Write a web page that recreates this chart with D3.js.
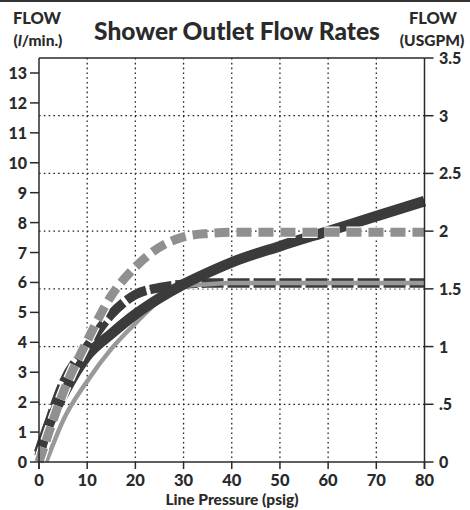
<!DOCTYPE html>
<html><head><meta charset="utf-8">
<script src="https://cdn.jsdelivr.net/npm/d3@7"></script>
<style>
html,body{margin:0;padding:0;background:#fff;}
svg{display:block;}
text{font-family:Lato,"Open Sans",sans-serif;font-weight:900;fill:#2a2a2a;}
</style></head>
<body>
<svg id="c" width="470" height="510"></svg>
<script>
// ---- data ----
const title = "Shower Outlet Flow Rates";
const xTicks = [0,10,20,30,40,50,60,70,80];
const leftTicks = [0,1,2,3,4,5,6,7,8,9,10,11,12,13];
const rightTicks = [0,0.5,1,1.5,2,2.5,3,3.5];
const rightTickLabels = ["0",".5","1","1.5","2","2.5","3","3.5"];
const pressure = [0,2,5,10,15,20,25,30,35,40,50,60,70,80];
// flows in USGPM
const darkSolid  = [0.08,0.32,0.58,0.92,1.11,1.28,1.42,1.54,1.64,1.73,1.87,2.00,2.13,2.26];
const darkDashed = [0.05,0.33,0.68,1.00,1.28,1.45,1.51,1.54,1.55,1.55,1.55,1.55,1.55,1.55];
const grayDotted = [0.00,0.25,0.60,1.05,1.44,1.69,1.86,1.95,1.98,1.99,1.99,1.99,1.99,1.99];
const graySolidPressure = [1.5,5,10,15,20,25,30,35,40,50,60,70,80];
const graySolid  = [0.00,0.36,0.70,0.98,1.20,1.40,1.52,1.54,1.55,1.55,1.55,1.55,1.55];

// ---- layout ----
const svg = d3.select("#c");
const x = d3.scaleLinear().domain([0,80]).range([39,424.5]);
const yR = d3.scaleLinear().domain([0,3.5]).range([462,58]);
const yL = d3.scaleLinear().domain([0,13]).range([462,73]);
const ink = "#2a2a2a";

svg.append("rect").attr("x",0).attr("y",0).attr("width",470).attr("height",2).attr("fill","#333");

// grid
const grid = svg.append("g").attr("stroke","#222").attr("stroke-width",1.3).attr("stroke-dasharray","1.6,3.2");
grid.selectAll("line.v").data(xTicks.slice(1,-1)).join("line")
  .attr("x1",d=>x(d)).attr("x2",d=>x(d)).attr("y1",yR(3.5)).attr("y2",yR(0));
grid.selectAll("line.h").data(rightTicks.slice(1,-1)).join("line")
  .attr("x1",x(0)).attr("x2",x(80)).attr("y1",d=>yR(d)).attr("y2",d=>yR(d));

// curves
const line = d3.line().curve(d3.curveMonotoneX);
const pts = (xs,ys)=>xs.map((p,i)=>[x(p),yR(ys[i])]);
const curves = svg.append("g").attr("fill","none");
curves.append("path").attr("d",line(pts(pressure,darkDashed)))
  .attr("stroke","#fff").attr("stroke-width",11).attr("stroke-dasharray","22,4");
curves.append("path").attr("d",line(pts(pressure,darkDashed)))
  .attr("stroke","#3b3b3b").attr("stroke-width",9.5).attr("stroke-dasharray","22,4");
curves.append("path").attr("d",line(pts(graySolidPressure,graySolid)))
  .attr("stroke","#999").attr("stroke-width",4.5);
curves.append("path").attr("d",line(pts(pressure,darkSolid)))
  .attr("stroke","#3b3b3b").attr("stroke-width",10.5);
curves.append("path").attr("d",line(pts(pressure,grayDotted)))
  .attr("stroke","#fff").attr("stroke-width",11.5).attr("stroke-dasharray","15,7");
curves.append("path").attr("d",line(pts(pressure,grayDotted)))
  .attr("stroke","#909090").attr("stroke-width",9).attr("stroke-dasharray","15,7");

// axes frame
const ax = svg.append("g").attr("stroke",ink).attr("stroke-width",1.5).attr("fill","none");
ax.append("line").attr("x1",x(0)).attr("x2",x(0)).attr("y1",yR(3.5)).attr("y2",yR(0)+7);
ax.append("line").attr("x1",x(80)).attr("x2",x(80)).attr("y1",yR(3.5)).attr("y2",yR(0)+7);
ax.append("line").attr("x1",x(0)).attr("x2",x(80)).attr("y1",yR(3.5)).attr("y2",yR(3.5));
ax.append("line").attr("x1",x(0)).attr("x2",x(80)).attr("y1",yR(0)).attr("y2",yR(0));
ax.selectAll("line.xt").data(xTicks).join("line")
  .attr("x1",d=>x(d)).attr("x2",d=>x(d)).attr("y1",yR(0)).attr("y2",yR(0)+7);
ax.selectAll("line.lt").data(leftTicks).join("line")
  .attr("x1",x(0)-9).attr("x2",x(0)).attr("y1",d=>yL(d)).attr("y2",d=>yL(d));
ax.selectAll("line.rt").data(rightTicks).join("line")
  .attr("x1",x(80)).attr("x2",x(80)+9).attr("y1",d=>yR(d)).attr("y2",d=>yR(d));

// labels
svg.append("g").selectAll("text").data(leftTicks).join("text")
  .attr("x",27).attr("y",d=>yL(d)+6).attr("text-anchor","end").attr("font-size",16).text(d=>d);
svg.append("g").selectAll("text").data(rightTicks).join("text")
  .attr("x",439).attr("y",d=>yR(d)+6).attr("text-anchor","start").attr("font-size",16)
  .text((d,i)=>rightTickLabels[i]);
svg.append("g").selectAll("text").data(xTicks).join("text")
  .attr("x",d=>x(d)).attr("y",486).attr("text-anchor","middle").attr("font-size",16.5).text(d=>d);

svg.append("text").attr("x",232).attr("y",505).attr("text-anchor","middle").attr("font-size",15.5)
  .text("Line Pressure (psig)");
svg.append("text").attr("x",237).attr("y",40).attr("text-anchor","middle").attr("font-size",24.5)
  .text(title);
svg.append("text").attr("x",37).attr("y",24).attr("text-anchor","middle").attr("font-size",16.5).text("FLOW");
const l2 = svg.append("text").attr("x",38).attr("y",46).attr("text-anchor","middle").attr("font-size",15.5);
l2.append("tspan").text("(");
l2.append("tspan").attr("font-style","italic").text("l");
l2.append("tspan").text("/min.)");
svg.append("text").attr("x",433).attr("y",24).attr("text-anchor","middle").attr("font-size",16.5).text("FLOW");
svg.append("text").attr("x",432).attr("y",46).attr("text-anchor","middle").attr("font-size",15.5).text("(USGPM)");
</script>
</body></html>
